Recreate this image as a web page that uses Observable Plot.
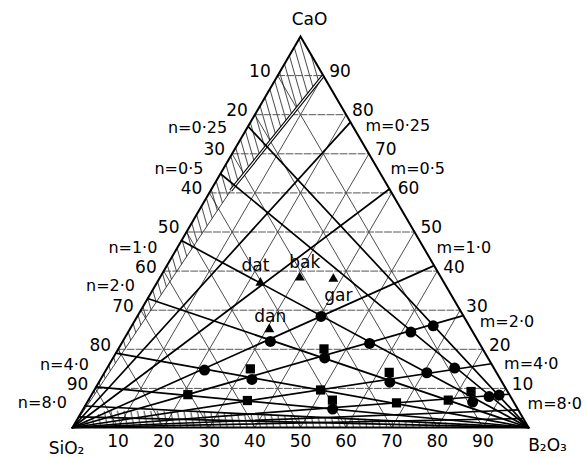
<!DOCTYPE html>
<html><head><meta charset="utf-8">
<script src="https://cdn.jsdelivr.net/npm/d3@7"></script>
<script src="https://cdn.jsdelivr.net/npm/@observablehq/plot@0.6"></script>
<style>
body{margin:0;background:#fff;}
svg{display:block}
</style></head><body>
<div id="chart"></div>
<script>
// ---------- data (compositions as [SiO2, B2O3, CaO] in %) ----------
const gridTicks = [10, 20, 30, 40, 50, 60, 70, 80, 90];

const nLabels   = ["0·25", "0·5", "1·0", "2·0", "4·0", "8·0"];
const nSideSiO2 = [23.0, 35.1, 52.2, 67.0, 81.0, 89.6];   // where n-lines meet the CaO–SiO2 side
const nExtraSiO2 = [94.5, 97.3];

const mLabels  = ["0·25", "0·5", "1·0", "2·0", "4·0", "8·0"];
const mSideCaO = [78.1, 61.0, 41.4, 28.6, 16.3, 8.5];     // where m-lines meet the CaO–B2O3 side
const mExtraCaO = [4.5, 2.3];

const circles = [
  [31.3, 40.3, 28.4], [45.6, 32.4, 22.0], [24.1, 54.4, 21.5], [13.6, 62.0, 24.4],
  [7.9, 66.1, 26.0], [63.7, 21.6, 14.7], [35.8, 46.4, 17.8], [54.5, 33.2, 12.3],
  [24.6, 63.8, 11.6], [15.3, 70.7, 14.0], [8.6, 76.2, 15.2], [40.6, 54.7, 4.7],
  [9.0, 84.5, 6.5], [4.7, 87.4, 7.9], [2.3, 89.4, 8.3]
];
const squares = [
  [34.8, 45.1, 20.1], [53.5, 31.5, 15.0], [23.5, 62.4, 14.1], [70.5, 21.1, 8.4],
  [58.2, 34.9, 6.9], [40.8, 49.6, 9.6], [39.5, 53.5, 7.0], [25.8, 67.9, 6.3],
  [14.1, 78.9, 7.0], [8.0, 82.8, 9.2]
];
const triangleNames = ["dat", "bak", "gar", "dan"];
const triangles = [[40.3, 22.7, 37.0], [31.0, 30.7, 38.3], [23.8, 38.2, 38.0], [44.3, 30.6, 25.1]];

const topHatch = [[0, 0, 100], [0, 10, 90], [35, 4.4, 60.6], [100, 0, 0]];
const bottomHatch = [[100, 0, 0], [90.55, 5.1, 4.35], [69.9, 26, 4.1], [31.45, 66.5, 2.05], [5.86, 93.5, 0.64], [0, 100, 0]];
const doubleLine = [[0, 10, 90], [35, 4.4, 60.6]];

// ---------- layout (label anchor points along the sides) ----------
const nLabelAt = [23.4, 33.8, 54.0, 63.8, 84.0, 93.7];   // SiO2 % on left side
const mLabelAt = [77.2, 66.2, 46.0, 27.1, 16.4, 6.1];    // CaO % on right side
const nameOffsets = {dat: [-5, -17], bak: [5, -15], gar: [5, 17], dan: [1, -13]};

// ---------- helpers ----------
const T = a => ({s: a[0], b: a[1], c: a[2]});
const X = d => d.b + d.c / 2;
const Y = d => d.c;
const FONT = "DejaVu Sans";

const gridB = gridTicks.flatMap(k => [{id: k, s: 100 - k, b: k, c: 0}, {id: k, s: 0, b: k, c: 100 - k}]);
const gridS = gridTicks.flatMap(k => [{id: k, s: k, b: 100 - k, c: 0}, {id: k, s: k, b: 0, c: 100 - k}]);
const gridH = gridTicks.flatMap(k => [{id: k, s: 100 - k, b: 0, c: k}, {id: k, s: 0, b: 100 - k, c: k}]);

const nLines = [...nSideSiO2, ...nExtraSiO2].flatMap((v, i) => [{id: i, s: 0, b: 100, c: 0}, {id: i, s: v, b: 0, c: 100 - v}]);
const mLines = [...mSideCaO, ...mExtraCaO].flatMap((v, i) => [{id: i, s: 100, b: 0, c: 0}, {id: i, s: 0, b: 100 - v, c: v}]);
const outline = [[100, 0, 0], [0, 100, 0], [0, 0, 100]].map(T);
const boundary = [[35, 4.4, 60.6], [100, 0, 0]].map(T);

const triData = triangles.map((a, i) => ({...T(a), name: triangleNames[i]}));

const nameMarks = triData.map(d => Plot.text([d], {
  x: X, y: Y, text: "name", dx: nameOffsets[d.name][0], dy: nameOffsets[d.name][1],
  fontSize: 17, fontFamily: FONT, fill: "black"
}));

const svg = Plot.plot({
  width: 585, height: 458,
  marginLeft: 72, marginRight: 57, marginTop: 36, marginBottom: 31,
  x: {domain: [0, 100], axis: null},
  y: {domain: [0, 100], axis: null},
  style: {background: "white", fontFamily: FONT},
  marks: [
    Plot.line(topHatch.map(T), {x: X, y: Y, fill: "url(#hatchA)", stroke: "none", curve: "linear-closed"}),
    Plot.line(bottomHatch.map(T), {x: X, y: Y, fill: "url(#hatchB)", stroke: "none", curve: "linear-closed"}),
    Plot.line(gridB, {x: X, y: Y, z: "id", stroke: "#111", strokeWidth: 0.75}),
    Plot.line(gridS, {x: X, y: Y, z: "id", stroke: "#111", strokeWidth: 0.75}),
    Plot.line(gridH, {x: X, y: Y, z: "id", stroke: "#555", strokeWidth: 1, strokeDasharray: "7,2"}),
    Plot.line(boundary, {x: X, y: Y, stroke: "#111", strokeWidth: 0.8}),
    Plot.line(doubleLine.map(T), {x: X, y: Y, stroke: "black", strokeWidth: 3.4, strokeLinecap: "butt"}),
    Plot.line(doubleLine.map(T), {x: X, y: Y, stroke: "white", strokeWidth: 1.2, strokeLinecap: "butt"}),
    Plot.line(nLines, {x: X, y: Y, z: "id", stroke: "black", strokeWidth: 1.7}),
    Plot.line(mLines, {x: X, y: Y, z: "id", stroke: "black", strokeWidth: 1.7}),
    Plot.line(outline, {x: X, y: Y, stroke: "black", strokeWidth: 2, curve: "linear-closed", strokeLinejoin: "miter", strokeMiterlimit: 10}),
    Plot.dot(circles.map(T), {x: X, y: Y, r: 5.5, fill: "black", stroke: "none"}),
    Plot.dot(squares.map(T), {x: X, y: Y, r: 5.2, symbol: "square", fill: "black", stroke: "none"}),
    Plot.dot(triData, {x: X, y: Y, r: 3.7, symbol: "triangle", fill: "black", stroke: "none"}),
    // side tick labels
    Plot.text(gridTicks, {x: k => X({s: k, b: 0, c: 100 - k}), y: k => 100 - k, text: k => String(k),
      textAnchor: "end", dx: -7, dy: -4, fontSize: 17, fontFamily: FONT, fill: "black"}),
    Plot.text(gridTicks, {x: k => X({s: 0, b: 100 - k, c: k}), y: k => k, text: k => String(k),
      textAnchor: "start", dx: 6, dy: -4, fontSize: 17, fontFamily: FONT, fill: "black"}),
    Plot.text(gridTicks, {x: k => k, y: 0, text: k => String(k), dy: 14, fontSize: 17, fontFamily: FONT, fill: "black"}),
    // n and m labels
    Plot.text(nLabels, {x: (d, i) => X({s: nLabelAt[i], b: 0, c: 100 - nLabelAt[i]}), y: (d, i) => 100 - nLabelAt[i],
      text: d => "n=" + d, textAnchor: "end", dx: -20, fontSize: 16, fontFamily: FONT, fill: "black", ariaLabel: "nlab"}),
    Plot.text(mLabels, {x: (d, i) => X({s: 0, b: 100 - mLabelAt[i], c: mLabelAt[i]}), y: (d, i) => mLabelAt[i],
      text: d => "m=" + d, textAnchor: "start", dx: 13, fontSize: 16, fontFamily: FONT, fill: "black", ariaLabel: "mlab"}),
    // vertex labels
    Plot.text([{s: 0, b: 0, c: 100}], {x: X, y: Y, text: () => "CaO", dx: 9, dy: -17, fontSize: 17, fontFamily: FONT, fill: "black"}),
    Plot.text([{s: 100, b: 0, c: 0}], {x: X, y: Y, text: () => "SiO₂", dx: -6, dy: 21, fontSize: 17, fontFamily: FONT, fill: "black"}),
    Plot.text([{s: 0, b: 100, c: 0}], {x: X, y: Y, text: () => "B₂O₃", dx: 19, dy: 18, fontSize: 17, fontFamily: FONT, fill: "black"}),
    ...nameMarks
  ]
});

// hatch patterns
const defs = d3.select(svg).insert("defs", ":first-child");
const pA = defs.append("pattern").attr("id", "hatchA").attr("patternUnits", "userSpaceOnUse")
  .attr("width", 7).attr("height", 20).attr("patternTransform", "rotate(-16)");
pA.append("line").attr("x1", 3.5).attr("y1", 0).attr("x2", 3.5).attr("y2", 20).attr("stroke", "#000").attr("stroke-width", 0.7);
const pB = defs.append("pattern").attr("id", "hatchB").attr("patternUnits", "userSpaceOnUse")
  .attr("width", 6.5).attr("height", 20).attr("patternTransform", "rotate(-12)");
pB.append("line").attr("x1", 3).attr("y1", 0).attr("x2", 3).attr("y2", 20).attr("stroke", "#000").attr("stroke-width", 0.8);

// italic n / m
d3.select(svg).selectAll('g[aria-label="nlab"] text, g[aria-label="mlab"] text').each(function () {
  const t = this.textContent;
  const sel = d3.select(this);
  sel.text(null);
  sel.append("tspan").attr("font-style", "italic").text(t[0]);
  sel.append("tspan").text(t.slice(1));
});

document.getElementById("chart").appendChild(svg);
</script>
</body></html>
